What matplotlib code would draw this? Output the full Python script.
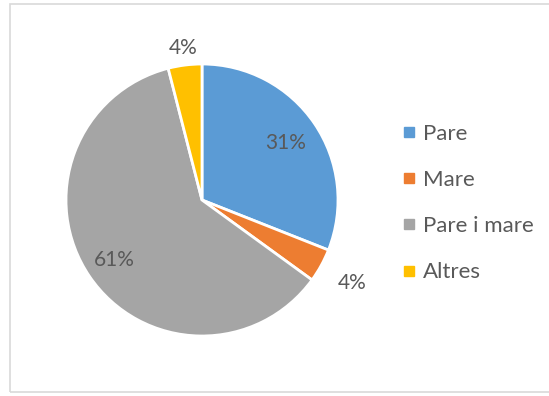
import matplotlib
matplotlib.use("Agg")
import matplotlib.pyplot as plt
from matplotlib.lines import Line2D
from matplotlib.patches import Rectangle
import numpy as np

categories = ["Pare", "Mare", "Pare i mare", "Altres"]
values = [31, 4, 61, 4]
colors = ["#5B9BD5", "#ED7D31", "#A5A5A5", "#FFC000"]
# radial position of each percentage label, as a fraction of the radius
label_radius = [0.74, 1.26, 0.78, 1.13]

plt.rcParams["font.family"] = ["Lato", "DejaVu Sans"]
text_color = "#595959"

W, H = 549, 396
fig = plt.figure(figsize=(W / 100, H / 100), dpi=100)
fig.patch.set_facecolor("white")

# outer chart frame
fig.patches.append(Rectangle((10 / W, 4 / H), (W + 5) / W, (H - 8) / H,
                             transform=fig.transFigure, fill=False,
                             edgecolor="#D9D9D9", linewidth=1.2))

cx, cy, r = 202, 200, 136
ax = fig.add_axes([(cx - r) / W, (H - cy - r) / H, 2 * r / W, 2 * r / H])
wedges, _ = ax.pie(values, colors=colors, startangle=90, counterclock=False,
                   radius=1.0, wedgeprops=dict(edgecolor="white", linewidth=2))
ax.set_xlim(-1, 1)
ax.set_ylim(-1, 1)
ax.set_aspect("equal")
ax.axis("off")

total = sum(values)
start = 90.0
for v, rr in zip(values, label_radius):
    span = v / total * 360
    mid = np.deg2rad(start - span / 2)
    start -= span
    ax.text(rr * np.cos(mid), rr * np.sin(mid), f"{v / total:.0%}",
            ha="center", va="center", fontsize=15, color=text_color,
            clip_on=False)

handles = [Line2D([], [], marker="s", linestyle="none", markersize=6.5,
                  markerfacecolor=c, markeredgecolor=c) for c in colors]
fig.legend(handles, categories, loc="center left",
           bbox_to_anchor=(382 / W, 1 - 203 / H), frameon=False,
           fontsize=16, labelcolor=text_color, handlelength=0.6,
           handletextpad=0.35, labelspacing=1.18)

fig.savefig("out.png", dpi=100)
